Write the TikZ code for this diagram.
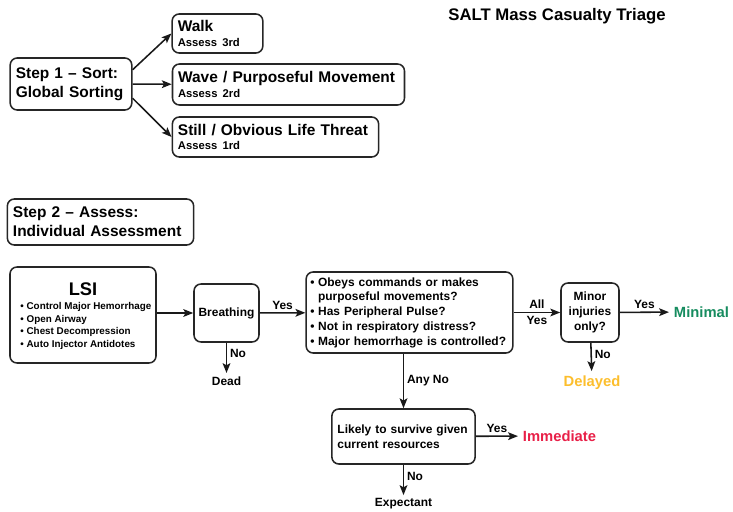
\documentclass[tikz,border=0pt]{standalone}
\usepackage{fontspec}
\setmainfont{Liberation Sans}
\usetikzlibrary{arrows.meta}
\usetikzlibrary{calc}

\definecolor{minimalgreen}{RGB}{22,140,95}
\definecolor{delayedyellow}{RGB}{252,190,45}
\definecolor{immediatered}{RGB}{232,32,72}

\hyphenpenalty=10000
\exhyphenpenalty=10000

\newcommand{\qitem}{\makebox[0.65em][l]{\textbullet}}
\newcommand{\qindent}{\makebox[0.65em]{}}

\begin{document}
\begin{tikzpicture}[x=0.025cm, y=-0.025cm, line width=1.1pt,
        box_style/.style={draw=black!85, rounded corners=5pt, inner xsep=4pt, inner ysep=2pt, align=left, font=\bfseries\fontsize{11}{13.5}\selectfont},
        small_box_style/.style={draw=black!85, rounded corners=5pt, inner xsep=4pt, inner ysep=2pt, font=\bfseries\fontsize{8.5}{10.5}\selectfont},
        label_style/.style={font=\bfseries\fontsize{8.5}{10}\selectfont, inner sep=2pt},
        result_style/.style={font=\bfseries\fontsize{10.5}{12}\selectfont, inner sep=3pt},
        edge_style/.style={draw=black!90, -{Stealth[length=7pt,width=5.5pt,inset=1.5pt]}}]

        \useasboundingbox (0,0) rectangle (733,512);

        \node [font=\bfseries\fontsize{11.9}{14}\selectfont] (title) at (557,16) {SALT Mass Casualty Triage};

        % step 1: sorting
        \node [box_style, text width=78.5pt, minimum height=1.3cm] (step1) at (71,84) {Step 1 -- Sort:\\Global Sorting};

        \node [box_style, text width=56.5pt, minimum height=0.975cm] (walk) at (217.5,33.5) {Walk\\[-3pt]{\fontsize{8}{9}\selectfont Assess 3rd}};

        \node [box_style, text width=157pt, minimum height=1.025cm] (wave) at (288.5,84.5) {Wave / Purposeful Movement\\[-3pt]{\fontsize{8}{9}\selectfont Assess 2rd}};

        \node [box_style, text width=138.7pt, minimum height=1cm] (still) at (275.5,137) {Still / Obvious Life Threat\\[-3pt]{\fontsize{8}{9}\selectfont Assess 1rd}};

        % step 2: assessment
        \node [box_style, text width=124.5pt, minimum height=1.15cm] (step2) at (100.5,222) {Step 2 -- Assess:\\Individual Assessment};

        \node [box_style, minimum width=3.65cm, minimum height=2.4cm] (lsi) at (83,315) {};

        \node [font=\bfseries\fontsize{13}{15}\selectfont] (lsi_title) at (83,289) {LSI};

        \node [font=\bfseries\fontsize{7}{9}\selectfont, align=left, anchor=west] (lsi_list) at (15,326) {\textbullet\ Control Major Hemorrhage\\\textbullet\ Open Airway\\\textbullet\ Chest Decompression\\\textbullet\ Auto Injector Antidotes};

        \node [small_box_style, inner xsep=2pt, minimum width=1.625cm, minimum height=1.45cm] (breathing) at (226.5,313) {Breathing};

        \node [small_box_style, inner xsep=3pt, text width=141pt, minimum height=2.025cm, align=left] (questions) at (409.5,312.5) {\qitem Obeys commands or makes\\\qindent purposeful movements?\\\qitem Has Peripheral Pulse?\\\qitem Not in respiratory distress?\\\qitem Major hemorrhage is controlled?};

        \node [small_box_style, inner xsep=2pt, minimum width=1.45cm, minimum height=1.475cm, align=center] (minor) at (590,312.5) {Minor\\injuries\\only?};

        \node [small_box_style, text width=3.3cm, minimum height=1.375cm, align=left] (likely) at (403.5,436.5) {Likely to survive given\\current resources};

        % outcomes
        \node [label_style] (dead) at (226.5,381) {Dead};

        \node [result_style, text=minimalgreen, anchor=west] (minimal) at (669,312) {Minimal};

        \node [result_style, text=delayedyellow] (delayed) at (592,383) {Delayed};

        \node [result_style, text=immediatered, anchor=west] (immediate) at (518,436) {Immediate};

        \node [label_style] (expectant) at (403.5,504) {Expectant};

        % connectors
        \draw [edge_style] (step1.13) -- (walk.west);

        \draw [edge_style] (step1) -- (wave);

        \draw [edge_style] (step1.-13) -- (still.west);

        \draw [edge_style] (lsi.east |- breathing.west) -- (breathing.west);

        \draw [edge_style] (breathing) -- node[label_style, above] {Yes} (questions);

        \draw [edge_style] (breathing) -- node[label_style, right, pos=0.35] {No} (dead);

        \draw [edge_style] (questions) -- node[label_style, above] {All} node[label_style, below] {Yes} (minor);

        \draw [edge_style] (minor) -- node[label_style, above] {Yes} (minimal);

        \draw [edge_style] (minor) -- node[label_style, right, pos=0.4] {No} (delayed);

        \draw [edge_style] (likely |- questions.south) -- node[label_style, right] {Any No} (likely);

        \draw [edge_style] (likely) -- node[label_style, above] {Yes} (immediate);

        \draw [edge_style] (likely) -- node[label_style, right, pos=0.4] {No} (expectant);

\end{tikzpicture}
\end{document}
